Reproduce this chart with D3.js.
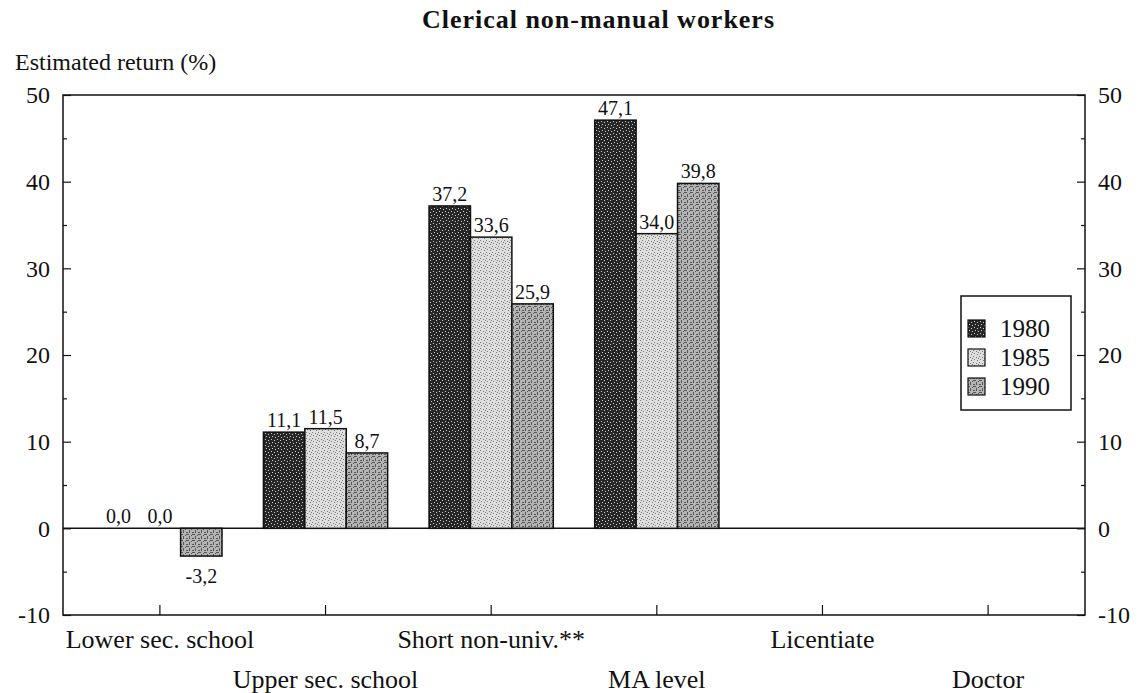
<!DOCTYPE html>
<html>
<head>
<meta charset="utf-8">
<script src="https://cdn.jsdelivr.net/npm/d3@7"></script>
<style>
  body { margin: 0; background: #fff; }
  svg text { font-family: "Liberation Serif", "Times New Roman", serif !important; fill: #111; }
</style>
</head>
<body>
<svg width="1144" height="693"></svg>
<script>
// data
const categories = ['Lower sec. school', 'Upper sec. school', 'Short non-univ.**', 'MA level', 'Licentiate', 'Doctor'];
const years = ['1980', '1985', '1990'];
const values1980 = [0.0, 11.1, 37.2, 47.1, null, null];
const values1985 = [0.0, 11.5, 33.6, 34.0, null, null];
const values1990 = [-3.2, 8.7, 25.9, 39.8, null, null];
const yTicks = [-10, 0, 10, 20, 30, 40, 50];
const yMinorTicks = [-5, 5, 15, 25, 35, 45];

const series = [values1980, values1985, values1990];

let svg = d3.select('svg'),
  plotLeft = 63, plotRight = 1085, plotTop = 95, plotBottom = 615;

// stipple patterns like the scanned print
const defs = svg.append('defs');
function stipple(id, base, dot, pts) {
  const p = defs.append('pattern')
    .attr('id', id)
    .attr('patternUnits', 'userSpaceOnUse')
    .attr('width', 6).attr('height', 6);
  p.append('rect').attr('width', 6).attr('height', 6).attr('fill', base);
  pts.forEach(q => p.append('rect')
    .attr('x', q[0]).attr('y', q[1]).attr('width', 1).attr('height', 1).attr('fill', dot));
}
stipple('p1980', '#262626', '#cfcfcf', [[1, 1], [4, 2], [2, 4], [5, 5]]);
stipple('p1985', '#dedede', '#7a7a7a', [[0, 0], [3, 1], [1, 3], [4, 4], [5, 2]]);
stipple('p1990', '#b4b4b4', '#555', [[0, 0], [1, 0], [2, 0], [3, 2], [3, 3], [3, 4], [0, 4], [1, 4], [5, 1]]);
const fills = ['url(#p1980)', 'url(#p1985)', 'url(#p1990)'];

const x = d3.scaleBand()
  .domain(categories)
  .range([plotLeft, plotRight])
  .paddingInner(0)
  .paddingOuter(0.085);

const xSub = d3.scaleBand()
  .domain(years)
  .range([0, x.bandwidth()])
  .paddingInner(0)
  .paddingOuter(0.5);

const y = d3.scaleLinear().domain([-10, 50]).range([plotBottom, plotTop]);

// comma decimals and a plain hyphen for negatives, as printed
const fmt = v => d3.format('.1f')(v).replace('.', ',').replace('\u2212', '-');
const fmtTick = v => String(v);

// title and y label
svg.append('text')
  .attr('x', 598).attr('y', 28)
  .attr('text-anchor', 'middle')
  .attr('font-weight', 'bold')
  .attr('font-size', 26)
  .attr('textLength', 352)
  .attr('lengthAdjust', 'spacing')
  .text('Clerical non-manual workers');

svg.append('text')
  .attr('x', 15).attr('y', 70)
  .attr('font-size', 24)
  .text('Estimated return (%)');

// zero line
svg.append('line')
  .attr('x1', plotLeft).attr('x2', plotRight)
  .attr('y1', y(0)).attr('y2', y(0))
  .attr('stroke', '#111').attr('stroke-width', 1.5);

// bars
series.forEach((vals, si) => {
  const g = svg.append('g').attr('class', 'series-' + years[si]);
  const data = categories.map((c, i) => ({ c: c, v: vals[i] })).filter(d => d.v !== null);

  g.selectAll('rect')
    .data(data.filter(d => d.v !== 0))
    .enter()
    .append('rect')
    .attr('x', d => x(d.c) + xSub(years[si]))
    .attr('width', xSub.bandwidth())
    .attr('y', d => y(Math.max(0, d.v)))
    .attr('height', d => Math.abs(y(d.v) - y(0)))
    .attr('fill', fills[si])
    .attr('stroke', '#111')
    .attr('stroke-width', 1.5);

  g.selectAll('text')
    .data(data)
    .enter()
    .append('text')
    .attr('x', d => x(d.c) + xSub(years[si]) + xSub.bandwidth() / 2)
    .attr('y', d => d.v < 0 ? y(d.v) + 27 : y(d.v) - 5)
    .attr('text-anchor', 'middle')
    .attr('font-size', 20)
    .text(d => fmt(d.v));
});

// axes, ticks pointing inward
const yLeft = svg.append('g')
  .attr('transform', 'translate(' + plotLeft + ',0)')
  .call(d3.axisLeft(y).tickValues(yTicks).tickSizeInner(-8).tickSizeOuter(0).tickPadding(13).tickFormat(fmtTick));
svg.append('g')
  .attr('transform', 'translate(' + plotLeft + ',0)')
  .call(d3.axisLeft(y).tickValues(yMinorTicks).tickSizeInner(-4).tickSizeOuter(0).tickFormat(''));

const yRight = svg.append('g')
  .attr('transform', 'translate(' + plotRight + ',0)')
  .call(d3.axisRight(y).tickValues(yTicks).tickSizeInner(-8).tickSizeOuter(0).tickPadding(13).tickFormat(fmtTick));
svg.append('g')
  .attr('transform', 'translate(' + plotRight + ',0)')
  .call(d3.axisRight(y).tickValues(yMinorTicks).tickSizeInner(-4).tickSizeOuter(0).tickFormat(''));

const xAxis = svg.append('g')
  .attr('transform', 'translate(0,' + plotBottom + ')')
  .call(d3.axisBottom(x).tickSizeInner(-10).tickSizeOuter(0).tickPadding(0));

xAxis.selectAll('text')
  .attr('font-size', 26)
  .attr('y', (d, i) => i % 2 === 0 ? 33 : 73)
  .attr('dy', 0);

svg.selectAll('.domain').remove();
svg.selectAll('.tick line').attr('stroke', '#111').attr('stroke-width', 1.2);
yLeft.selectAll('text').attr('font-size', 24);
yRight.selectAll('text').attr('font-size', 24);

// frame
svg.append('rect')
  .attr('x', plotLeft).attr('y', plotTop)
  .attr('width', plotRight - plotLeft).attr('height', plotBottom - plotTop)
  .attr('fill', 'none')
  .attr('stroke', '#111').attr('stroke-width', 1.5);

// legend
const legend = svg.append('g').attr('transform', 'translate(961,296)');
legend.append('rect')
  .attr('width', 110).attr('height', 114)
  .attr('fill', '#fff').attr('stroke', '#111').attr('stroke-width', 1.5);
years.forEach((yr, i) => {
  legend.append('rect')
    .attr('x', 7).attr('y', 24 + i * 29)
    .attr('width', 17).attr('height', 17)
    .attr('fill', fills[i]).attr('stroke', '#111').attr('stroke-width', 1.2);
  legend.append('text')
    .attr('x', 39).attr('y', 41 + i * 29)
    .attr('font-size', 25)
    .text(yr);
});
</script>
</body>
</html>
